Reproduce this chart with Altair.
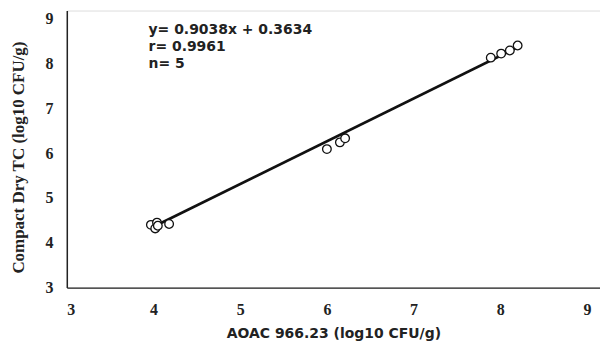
import altair as alt
import pandas as pd

# observed points (AOAC 966.23 vs Compact Dry TC, log10 CFU/g)
aoac = [3.97, 4.02, 4.04, 4.05, 4.18, 6.00, 6.15, 6.21, 7.89, 8.01, 8.11, 8.20]
compact = [4.40, 4.32, 4.45, 4.38, 4.42, 6.09, 6.24, 6.33, 8.13, 8.22, 8.29, 8.40]

# fitted line as drawn (endpoints)
line_x = [3.97, 8.22]
line_y = [4.33, 8.38]

ann_lines = ["y= 0.9038x + 0.3634", "r= 0.9961", "n= 5"]

x_ticks = [3, 4, 5, 6, 7, 8, 9]
y_ticks = [3, 4, 5, 6, 7, 8, 9]

pts = pd.DataFrame({"x": aoac, "y": compact})
ln = pd.DataFrame({"x": line_x, "y": line_y})

xs = alt.Scale(domain=[3, 9.15], nice=False, zero=False)
ys = alt.Scale(domain=[3, 9.18], nice=False, zero=False)

xaxis = alt.Axis(values=x_ticks, format="d", grid=False, ticks=False, domainColor="#222", domainWidth=1.5,
                 labelFont="Liberation Serif", labelFontWeight="bold", labelFontSize=16,
                 labelColor="#222", labelPadding=14, title="AOAC 966.23 (log10 CFU/g)",
                 titleFont="DejaVu Sans", titleFontWeight="bold", titleFontSize=14,
                 titleColor="#222", titlePadding=9)
yaxis = alt.Axis(values=y_ticks, format="d", grid=False, ticks=False, domainColor="#222", domainWidth=1.5,
                 labelFont="Liberation Serif", labelFontWeight="bold", labelFontSize=16,
                 labelColor="#222", labelPadding=14, title="Compact Dry TC (log10 CFU/g)",
                 titleFont="Liberation Serif", titleFontWeight="bold", titleFontSize=17,
                 titleColor="#222", titlePadding=17, titleY=147)

line = alt.Chart(ln).mark_line(color="#111", strokeWidth=2.8).encode(
    x=alt.X("x:Q", scale=xs, axis=xaxis),
    y=alt.Y("y:Q", scale=ys, axis=yaxis),
)
points = alt.Chart(pts).mark_point(shape="circle", filled=False, color="#111",
                                   size=75, strokeWidth=1.3, fill="white", fillOpacity=1).encode(
    x=alt.X("x:Q", scale=xs),
    y=alt.Y("y:Q", scale=ys),
)

layers = [line, points]
for i, t in enumerate(ann_lines):
    layers.append(
        alt.Chart(pd.DataFrame({"t": [t]})).mark_text(
            align="left", baseline="middle", font="DejaVu Sans",
            fontWeight="bold", fontSize=14, color="#222"
        ).encode(x=alt.value(82), y=alt.value(20 + 17 * i), text="t:N")
    )

chart = alt.layer(*layers).properties(
    width=535, height=278,
    autosize=alt.AutoSizeParams(type="none"),
    padding={"left": 59, "top": 2, "right": 0, "bottom": 58},
).configure_view(stroke=None).configure(background="white")

chart.save("out.html", embed_options={"renderer": "svg", "actions": False})
